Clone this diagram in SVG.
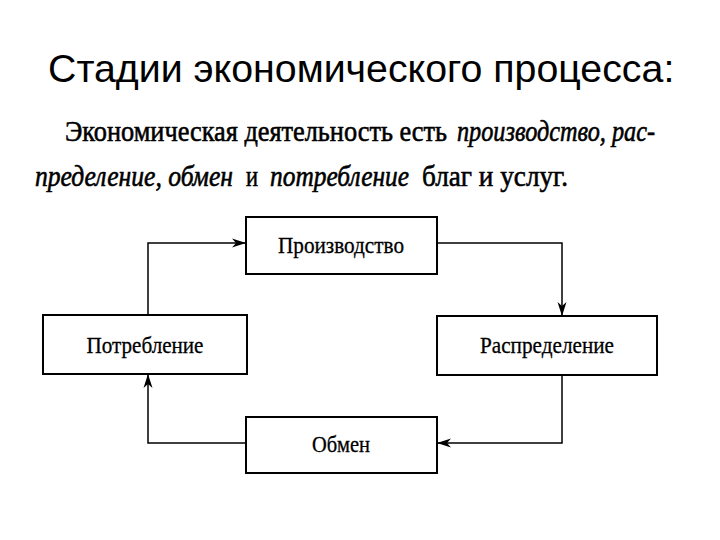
<svg xmlns="http://www.w3.org/2000/svg" width="720" height="540" viewBox="0 0 720 540">
<defs>
<style>
.title{font-family:"Liberation Sans",Arial,sans-serif;font-size:39.3px;fill:#000}
.para{font-family:"Liberation Serif","Times New Roman",serif;font-size:30px;fill:#000;stroke:#000;stroke-width:0.6}
.it{font-style:italic}
.box{fill:#fff;stroke:#000;stroke-width:2}
.lbl{font-family:"Liberation Serif","Times New Roman",serif;font-size:23px;fill:#000;text-anchor:middle;stroke:#000;stroke-width:0.3}
.conn{fill:none;stroke:#000;stroke-width:1.5}
</style>
<marker id="arr" viewBox="0 0 14 10" refX="14" refY="5" markerWidth="14" markerHeight="10" markerUnits="userSpaceOnUse" orient="auto">
<path d="M0,0.5 L14,5 L0,9.5 L4,5 Z" fill="#000"/>
</marker>
</defs>
<rect width="720" height="540" fill="#fff"/>
<text class="title" x="48" y="82">Стадии экономического процесса:</text>
<text class="para" y="141"><tspan x="65" textLength="382" lengthAdjust="spacingAndGlyphs">Экономическая деятельность есть</tspan><tspan class="it" x="457" textLength="198" lengthAdjust="spacingAndGlyphs">производство, рас-</tspan></text>
<text class="para" y="186"><tspan class="it" x="35" textLength="198" lengthAdjust="spacingAndGlyphs">пределение, обмен</tspan><tspan x="246" textLength="12" lengthAdjust="spacingAndGlyphs">и</tspan><tspan class="it" x="270" textLength="139" lengthAdjust="spacingAndGlyphs">потребление</tspan><tspan x="422" textLength="146" lengthAdjust="spacingAndGlyphs">благ и услуг.</tspan></text>
<g id="connectors">
<path class="conn" d="M148,315 V243 H246" marker-end="url(#arr)"/>
<path class="conn" d="M437,243 H562 V316" marker-end="url(#arr)"/>
<path class="conn" d="M562,375 V443 H437" marker-end="url(#arr)"/>
<path class="conn" d="M246,443 H148 V374" marker-end="url(#arr)"/>
</g>
<g id="production">
<rect class="box" x="246" y="217" width="191" height="57"/>
<text class="lbl" x="341" y="253" textLength="126" lengthAdjust="spacingAndGlyphs">Производство</text>
</g>
<g id="distribution">
<rect class="box" x="437" y="316" width="220" height="59"/>
<text class="lbl" x="547" y="353" textLength="134" lengthAdjust="spacingAndGlyphs">Распределение</text>
</g>
<g id="exchange">
<rect class="box" x="246" y="417" width="191" height="56"/>
<text class="lbl" x="341" y="452" textLength="58" lengthAdjust="spacingAndGlyphs">Обмен</text>
</g>
<g id="consumption">
<rect class="box" x="43" y="315" width="204" height="59"/>
<text class="lbl" x="145" y="353" textLength="117" lengthAdjust="spacingAndGlyphs">Потребление</text>
</g>
</svg>
